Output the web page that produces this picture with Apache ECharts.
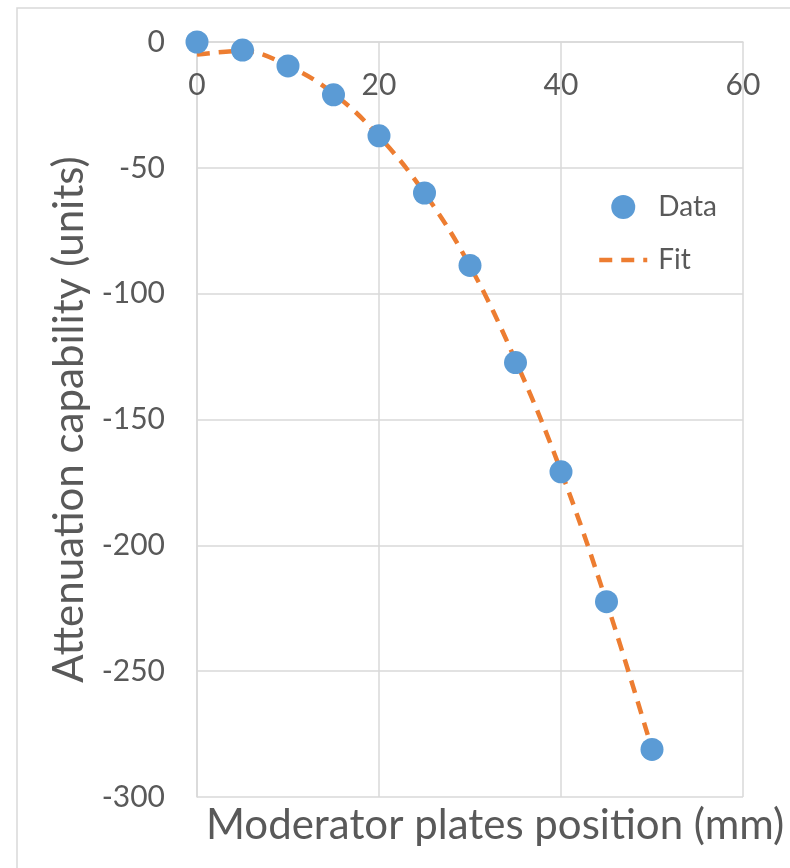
<!DOCTYPE html>
<html>
<head>
<meta charset="utf-8">
<script src="https://cdn.jsdelivr.net/npm/echarts@6/dist/echarts.min.js"></script>
<style>
  html, body { margin: 0; padding: 0; background: #fff; }
  #chart { width: 790px; height: 868px; }
</style>
</head>
<body>
<div id="chart"></div>
<script>
// Plate position (mm) and measured attenuation
const positions = [0, 5, 10, 15, 20, 25, 30, 35, 40, 45, 50];
const measured = [0, -3.2, -9.5, -21, -37.3, -60, -88.8, -127.4, -170.8, -222.4, -281.1];
// Fitted curve values at the same positions
const fitted = [-5, -3.6, -9.5, -20.5, -37.5, -60, -89, -126.5, -170.5, -222.5, -281];

const xTicks = { min: 0, max: 60, step: 20 };
const yTicks = { min: -300, max: 0, step: 50 };

const textColor = '#595959';
const gridColor = '#D9D9D9';
const font = 'Lato, "Open Sans", sans-serif';
const fitDash = [13, 9];

const chart = echarts.init(document.getElementById('chart'), null, { renderer: 'canvas' });

chart.setOption({
  animation: false,
  backgroundColor: '#fff',
  textStyle: { fontFamily: font, color: textColor },
  grid: { left: 197, right: 47, top: 42, bottom: 71, containLabel: false },
  title: {
    text: 'Moderator plates position (mm)',
    left: 206,
    top: 804,
    padding: 0,
    textStyle: { fontFamily: font, fontSize: 42, fontWeight: 'normal', color: textColor }
  },
  legend: {
    orient: 'vertical',
    left: 597,
    top: 193,
    padding: 0,
    itemWidth: 48,
    itemHeight: 24,
    itemGap: 25,
    textStyle: { fontFamily: font, fontSize: 28, color: textColor, padding: [0, 0, 0, 6] },
    data: [
      { name: 'Data', icon: 'circle' },
      {
        name: 'Fit',
        itemStyle: { opacity: 0 },
        lineStyle: { color: '#ED7D31', width: 4.5, type: fitDash }
      }
    ]
  },
  xAxis: {
    type: 'value',
    position: 'top',
    min: xTicks.min,
    max: xTicks.max,
    interval: xTicks.step,
    axisLine: { show: true, lineStyle: { color: gridColor, width: 1.5 } },
    axisTick: { show: false },
    axisLabel: { inside: true, margin: 28, fontSize: 30, color: textColor, fontFamily: font },
    splitLine: { show: true, lineStyle: { color: gridColor, width: 1.5 } }
  },
  yAxis: {
    type: 'value',
    min: yTicks.min,
    max: yTicks.max,
    interval: yTicks.step,
    name: 'Attenuation capability (units)',
    nameLocation: 'middle',
    nameRotate: 90,
    nameGap: 106,
    nameTextStyle: { fontFamily: font, fontSize: 42, color: textColor },
    axisLine: { show: true, lineStyle: { color: gridColor, width: 1.5 } },
    axisTick: { show: false },
    axisLabel: { margin: 32, fontSize: 30, color: textColor, fontFamily: font },
    splitLine: { show: true, lineStyle: { color: gridColor, width: 1.5 } }
  },
  graphic: [
    {
      type: 'rect',
      shape: { x: 17, y: 8, width: 820, height: 900 },
      style: { fill: 'none', stroke: gridColor, lineWidth: 1.5 },
      silent: true,
      z: -1
    }
  ],
  series: [
    {
      name: 'Fit',
      type: 'line',
      data: positions.map((x, i) => [x, fitted[i]]),
      smooth: 0.4,
      showSymbol: false,
      symbol: 'none',
      itemStyle: { color: '#ED7D31' },
      lineStyle: { color: '#ED7D31', width: 4.5, type: fitDash },
      z: 2
    },
    {
      name: 'Data',
      type: 'scatter',
      data: positions.map((x, i) => [x, measured[i]]),
      symbol: 'circle',
      symbolSize: 23,
      itemStyle: { color: '#5B9BD5', opacity: 1 },
      z: 3
    }
  ]
});
</script>
</body>
</html>
